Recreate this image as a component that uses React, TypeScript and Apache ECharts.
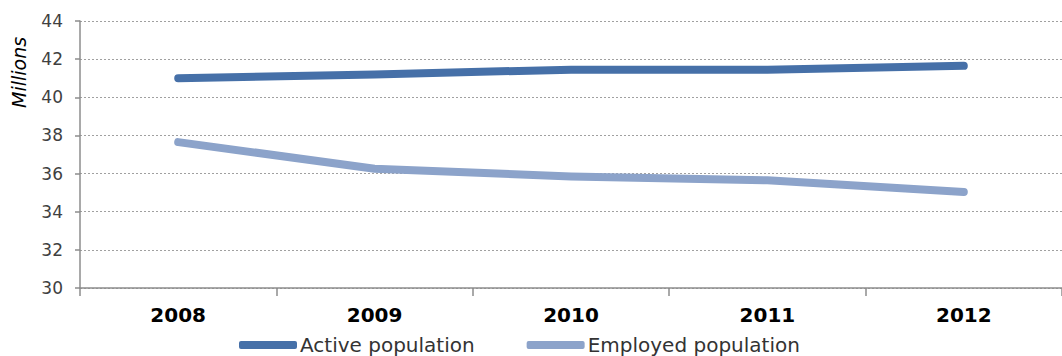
import React, { useEffect, useRef } from "react";
import * as echarts from "echarts";

const years = ["2008", "2009", "2010", "2011", "2012"];
const activePopulation = [41.0, 41.2, 41.45, 41.45, 41.65];
const employedPopulation = [37.65, 36.25, 35.85, 35.65, 35.03];

export default function App() {
  const ref = useRef<HTMLDivElement>(null);
  useEffect(() => {
    if (!ref.current) return;
    const chart = echarts.init(ref.current, undefined, { renderer: "svg" });
    const font = "'DejaVu Sans', Verdana, sans-serif";
    chart.setOption({
      animation: false,
      backgroundColor: "#ffffff",
      grid: { left: 80, right: -6, top: 21, bottom: 68, containLabel: false },
      xAxis: {
        type: "category",
        data: years,
        boundaryGap: true,
        axisLine: { lineStyle: { color: "#8c8c8c", width: 1.5 } },
        axisTick: { show: true, length: 8, lineStyle: { color: "#8c8c8c", width: 1.5 } },
        axisLabel: { color: "#000", fontSize: 20, fontWeight: "bold", fontFamily: font, margin: 17 },
      },
      yAxis: {
        type: "value",
        min: 30,
        max: 44,
        interval: 2,
        axisLine: { show: true, lineStyle: { color: "#8c8c8c", width: 1.5 } },
        axisTick: { show: true, length: 5, lineStyle: { color: "#8c8c8c", width: 1.5 } },
        axisLabel: { color: "#404040", fontSize: 17, fontFamily: font, margin: 17 },
        splitLine: { show: true, lineStyle: { color: "#a0a0a0", type: [2, 2], width: 1 } },
      },
      legend: {
        left: 234,
        top: 330,
        itemWidth: 58,
        itemHeight: 8,
        itemGap: 52,
        icon: "roundRect",
        textStyle: { color: "#333", fontSize: 20, fontFamily: font, padding: [0, 0, 0, -2] },
        data: ["Active population", "Employed population"],
      },
      graphic: [
        {
          type: "text",
          x: 9,
          y: 108,
          rotation: Math.PI / 2,
          style: {
            text: "Millions",
            fontSize: 19,
            fontStyle: "italic",
            fontFamily: font,
            fill: "#000",
          },
        },
      ],
      series: [
        {
          name: "Active population",
          type: "line",
          data: activePopulation,
          showSymbol: false,
          symbol: "none",
          itemStyle: { color: "#4670a8" },
          lineStyle: { color: "#4670a8", width: 8, cap: "round", join: "round" },
        },
        {
          name: "Employed population",
          type: "line",
          data: employedPopulation,
          showSymbol: false,
          symbol: "none",
          itemStyle: { color: "#8ca3ca" },
          lineStyle: { color: "#8ca3ca", width: 8, cap: "round", join: "round" },
        },
      ],
    });
    return () => chart.dispose();
  }, []);
  return (
    <div
      ref={ref}
      style={{ position: "fixed", left: 0, top: 0, width: 1062, height: 356 }}
    />
  );
}
